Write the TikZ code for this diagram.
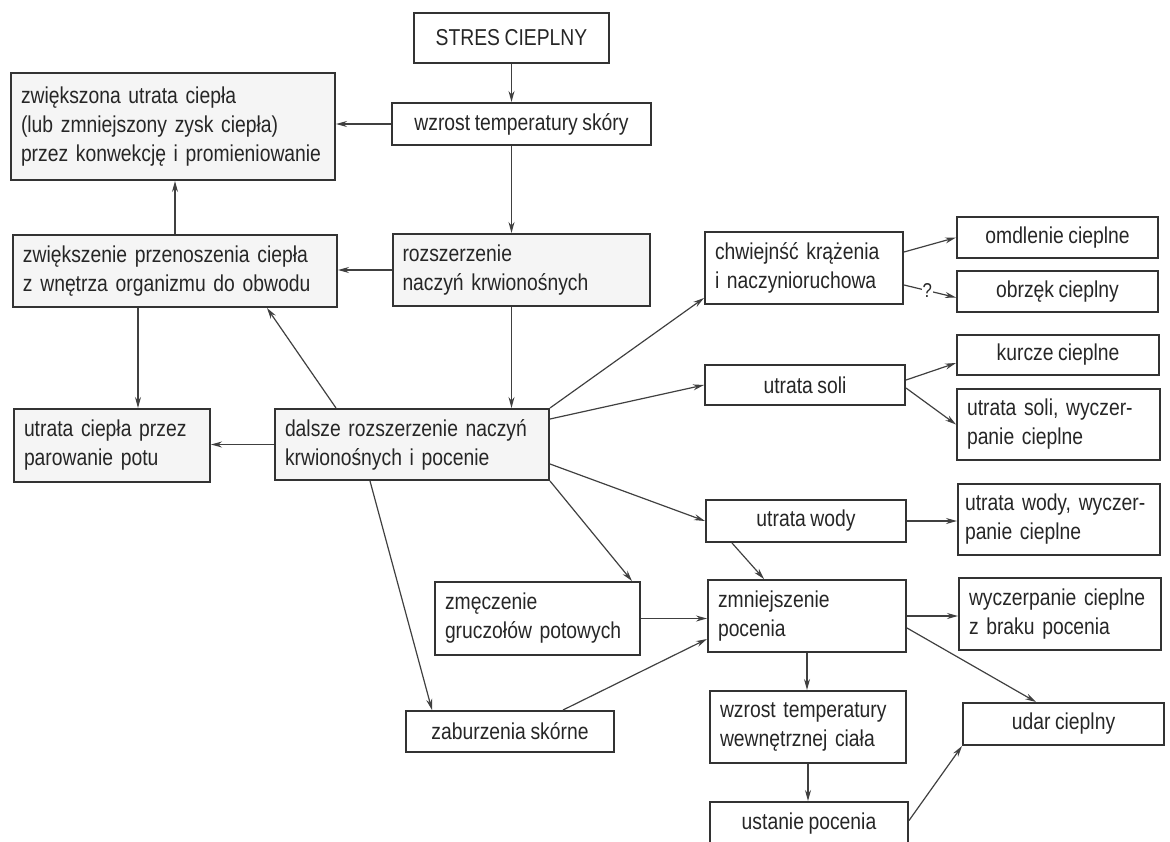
\documentclass[tikz,border=0pt]{standalone}
\usepackage{fontspec}
\setmainfont{Liberation Sans}[FakeStretch=0.84,WordSpace=0.85]
\usetikzlibrary{arrows.meta,calc}
\newcommand\diafs{\fontsize{23}{29}\selectfont}
\newcommand\qmfs{\fontsize{20}{22}\selectfont}
\begin{document}
\begin{tikzpicture}[x=1pt,y=-1pt,
 box/.style={draw=black!80, line width=2pt, rectangle, inner ysep=0pt, font=\diafs, text=black!85},
 cbox/.style={box, align=center, inner xsep=4pt},
 lbox/.style={box, align=left, inner xsep=10pt},
 shade/.style={fill=black!4},
 arr/.style={draw=black!75, line width=1.2pt, -{Stealth[length=11pt,width=6pt]}}]
\useasboundingbox (0,0) rectangle (1170,841);

% nodes
\node[cbox, minimum width=195pt, minimum height=50pt] (stres) at (511.5,38) {STRES CIEPLNY};
\node[cbox, minimum width=259pt, minimum height=42pt] (wzrost) at (521.5,124) {wzrost temperatury skóry};
\node[lbox, shade, text width=304pt, minimum height=107pt] (zwiek) at (173,126.5) {zwiększona utrata ciepła\\(lub zmniejszony zysk ciepła)\\przez konwekcję i promieniowanie};
\node[lbox, shade, text width=304pt, minimum height=72pt] (przen) at (175,271) {zwiększenie przenoszenia ciepła\\z wnętrza organizmu do obwodu};
\node[lbox, shade, text width=237pt, minimum height=72pt] (rozsz) at (521,270) {rozszerzenie\\naczyń krwionośnych};
\node[lbox, shade, text width=176pt, minimum height=73pt] (parow) at (112,445.5) {utrata ciepła przez\\parowanie potu};
\node[lbox, shade, text width=254pt, minimum height=71pt] (dalsze) at (412,444.5) {dalsze rozszerzenie naczyń\\krwionośnych i pocenie};
\node[lbox, text width=178pt, minimum height=72pt] (chwiej) at (804,268) {chwiejnść krążenia\\i naczynioruchowa};
\node[cbox, minimum width=201pt, minimum height=41pt] (omdl) at (1057.5,237.5) {omdlenie cieplne};
\node[cbox, minimum width=201pt, minimum height=41pt] (obrz) at (1057.5,291.5) {obrzęk cieplny};
\node[cbox, minimum width=202pt, minimum height=40pt] (kurcze) at (1058,355) {kurcze cieplne};
\node[cbox, minimum width=200pt, minimum height=40pt] (usoli) at (805,385) {utrata soli};
\node[lbox, text width=183pt, minimum height=71pt] (usoliw) at (1058.5,424.5) {utrata soli, wyczer-\\panie cieplne};
\node[cbox, minimum width=200pt, minimum height=42pt] (uwody) at (806,521) {utrata wody};
\node[lbox, inner xsep=7pt, text width=188pt, minimum height=71pt] (uwodyw) at (1059,519.5) {utrata wody, wyczer-\\panie cieplne};
\node[lbox, text width=185pt, minimum height=73pt] (zmecz) at (537.5,618.5) {zmęczenie\\gruczołów potowych};
\node[lbox, text width=178pt, minimum height=72pt] (zmniej) at (807,616) {zmniejszenie\\pocenia};
\node[lbox, text width=182pt, minimum height=72pt] (wyczb) at (1060,614) {wyczerpanie cieplne\\z braku pocenia};
\node[cbox, minimum width=208pt, minimum height=41pt] (zabur) at (510,731.5) {zaburzenia skórne};
\node[lbox, text width=176pt, minimum height=72pt] (wzrostw) at (808,727) {wzrost temperatury\\wewnętrznej ciała};
\node[cbox, minimum width=201pt, minimum height=42pt] (udar) at (1063.5,724) {udar cieplny};
\node[cbox, minimum width=198pt, minimum height=43pt] (ustanie) at (809,823.5) {ustanie pocenia};

% connectors
\draw[arr] (stres.south) -- (stres.south |- wzrost.north);
\draw[arr] (stres.south |- wzrost.south) -- (stres.south |- rozsz.north);
\draw[arr] (stres.south |- rozsz.south) -- (stres.south |- dalsze.north);
\draw[arr] (wzrost.west) -- (wzrost.west -| zwiek.east);
\draw[arr] (rozsz.west) -- (rozsz.west -| przen.east);
\draw[arr] (przen.north) -- (przen.north |- zwiek.south);
\coordinate (p1) at ($(przen.south)+(-37,0)$);
\draw[arr] (p1) -- (p1 |- parow.north);
\draw[arr] (dalsze.west) -- (dalsze.west -| parow.east);
\draw[arr] ($(dalsze.north west)+(62,0)$) -- ($(przen.south east)+(-71,0)$);
\draw[arr] (dalsze.north east) -- ($(chwiej.south west)+(0,-7)$);
\draw[arr] ($(dalsze.north east)+(0,11)$) -- (usoli.west);
\draw[arr] ($(dalsze.south east)+(0,-17)$) -- (uwody.west);
\draw[arr] (dalsze.south east) -- ($(zmecz.north east)+(-9,0)$);
\draw[arr] ($(dalsze.south west)+(96,0)$) -- ($(zabur.north west)+(27,0)$);
\draw[arr] ($(chwiej.east)+(0,-16)$) -- (omdl.west);
\draw[arr] ($(chwiej.east)+(0,17)$) -- node[pos=0.45, fill=white, inner sep=0.5pt, font=\qmfs, text=black!85] (q) {?} ($(obrz.west)+(0,6)$);
\draw[arr] ($(usoli.east)+(0,-5)$) -- ($(kurcze.west)+(0,8)$);
\draw[arr] ($(usoli.east)+(0,3)$) -- (usoliw.west);
\draw[arr] (uwody.east) -- (uwody.east -| uwodyw.west);
\draw[arr] ($(uwody.south west)+(27,0)$) -- ($(zmniej.north west)+(57,0)$);
\draw[arr] (zmecz.east) -- (zmecz.east -| zmniej.west);
\draw[arr] ($(zabur.north west)+(158,0)$) -- ($(zmniej.south west)+(0,-14)$);
\draw[arr] (zmniej.east) -- (zmniej.east -| wyczb.west);
\draw[arr] ($(zmniej.east)+(0,12)$) -- ($(udar.north west)+(74,0)$);
\draw[arr] (zmniej.south) -- (zmniej.south |- wzrostw.north);
\draw[arr] (wzrostw.south) -- (wzrostw.south |- ustanie.north);
\draw[arr] ($(ustanie.east)+(0,-3)$) -- (udar.south west);
\end{tikzpicture}
\end{document}
